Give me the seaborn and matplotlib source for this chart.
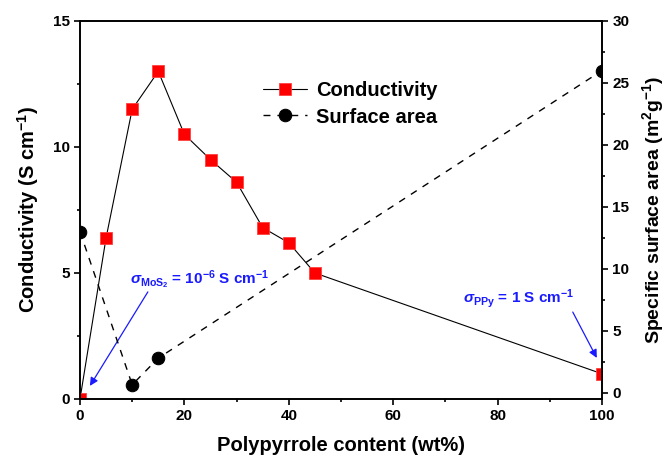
import matplotlib
matplotlib.use("Agg")
import matplotlib.pyplot as plt
import seaborn as sns
from matplotlib.ticker import MultipleLocator

# Polypyrrole loading (wt%) and measured properties
ppy_cond = [0, 5, 10, 15, 20, 25, 30, 35, 40, 45, 100]
conductivity = [1e-6, 6.4, 11.5, 13.0, 10.5, 9.5, 8.6, 6.8, 6.2, 5.0, 1.0]

ppy_area = [0, 10, 15, 100]
surface_area = [13.0, 0.65, 2.8, 26.0]

sns.set_theme(style="ticks")
plt.rcParams["font.family"] = ["Liberation Sans", "DejaVu Sans"]
plt.rcParams["font.weight"] = "bold"
plt.rcParams["text.color"] = "black"
plt.rcParams["axes.labelcolor"] = "black"
plt.rcParams["xtick.color"] = "black"
plt.rcParams["ytick.color"] = "black"
plt.rcParams["mathtext.fontset"] = "custom"
plt.rcParams["mathtext.rm"] = "Liberation Sans:bold"
plt.rcParams["mathtext.bf"] = "Liberation Sans:bold"
plt.rcParams["mathtext.it"] = "Liberation Sans:italic"
plt.rcParams["axes.linewidth"] = 1.2

fig = plt.figure(figsize=(6.7, 4.58), dpi=100)
ax = fig.add_axes([80 / 670, 59 / 458, 522 / 670, 378 / 458])
ax2 = ax.twinx()

sns.lineplot(x=ppy_cond, y=conductivity, ax=ax, color="black", lw=0.8,
             marker="s", markersize=8.6, markerfacecolor="red",
             markeredgecolor="#ff4040", markeredgewidth=0.6,
             label="Conductivity", legend=False)
sns.lineplot(x=ppy_area, y=surface_area, ax=ax2, color="black", lw=1.0,
             linestyle=(0, (5, 5)), marker="o", markersize=9.0,
             markerfacecolor="black", markeredgecolor="black",
             label="Surface area", legend=False)

ax.set_xlim(0, 100)
ax.set_ylim(0, 15)
ax2.set_ylim(-0.5, 30)

ax.xaxis.set_major_locator(MultipleLocator(20))
ax.xaxis.set_minor_locator(MultipleLocator(10))
ax.yaxis.set_major_locator(MultipleLocator(5))
ax.yaxis.set_minor_locator(MultipleLocator(2.5))
ax2.yaxis.set_major_locator(MultipleLocator(5))
ax2.yaxis.set_minor_locator(MultipleLocator(2.5))

for a in (ax, ax2):
    for s in a.spines.values():
        s.set_linewidth(1.2)
        s.set_color("black")
    a.tick_params(which="major", direction="out", length=4, width=1.2,
                  labelsize=11, colors="black")
    a.tick_params(which="minor", direction="out", length=2.5, width=1.2)
ax.tick_params(which="both", top=False, right=False)
ax2.tick_params(which="both", left=False, right=True)

for lab in ax.get_xticklabels() + ax.get_yticklabels() + ax2.get_yticklabels():
    lab.set_fontweight("bold")

ax.set_xlabel("Polypyrrole content (wt%)", fontsize=14.5, fontweight="bold",
              labelpad=9)
ax.set_ylabel("Conductivity (S cm$^{-1}$)", fontsize=14.5, fontweight="bold",
              labelpad=8)
ax2.set_ylabel("Specific surface area (m$^{2}$g$^{-1}$)", fontsize=14,
               fontweight="bold", labelpad=8)

# Reference conductivities of the pure components
blue = "#1a1aff"
ax.text(9.6, 4.72, r"$\sigma_{\mathbf{MoS_2}}$ = 10$^{-6}$ S cm$^{-1}$",
        color=blue, fontsize=11, fontweight="bold", ha="left", va="center")
ax.annotate("", xy=(1.9, 0.52), xytext=(13.0, 4.25),
            arrowprops=dict(arrowstyle="-|>", color=blue, lw=0.9,
                            mutation_scale=12, shrinkA=0, shrinkB=0))
ax.text(73.4, 4.0, r"$\sigma_{\mathbf{PPy}}$ = 1 S cm$^{-1}$",
        color=blue, fontsize=11, fontweight="bold", ha="left", va="center")
ax.annotate("", xy=(99.0, 1.63), xytext=(94.4, 3.45),
            arrowprops=dict(arrowstyle="-|>", color=blue, lw=0.9,
                            mutation_scale=12, shrinkA=0, shrinkB=0))

h1, l1 = ax.get_legend_handles_labels()
h2, l2 = ax2.get_legend_handles_labels()
leg = ax2.legend(h1 + h2, l1 + l2, loc="upper left",
                 bbox_to_anchor=(0.316, 0.888), frameon=False,
                 prop={"weight": "bold", "size": 14.5}, handlelength=2.2,
                 handletextpad=0.45, labelspacing=0.35)

fig.savefig("out.png", dpi=100)
